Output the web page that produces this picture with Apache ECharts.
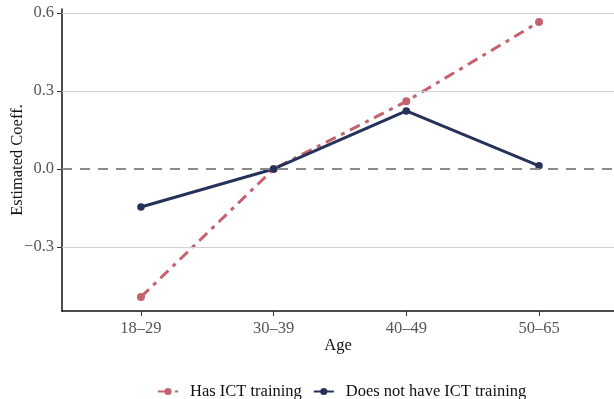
<!DOCTYPE html>
<html><head><meta charset="utf-8">
<script src="https://cdn.jsdelivr.net/npm/echarts@6/dist/echarts.min.js"></script>
<style>html,body{margin:0;padding:0;background:#fff}#c{width:614px;height:399px}</style>
</head><body><div id="c"></div>
<script>
var categories = ['18–29', '30–39', '40–49', '50–65'];
var hasICT = [-0.492, 0.0, 0.26, 0.565];
var noICT = [-0.146, 0.0, 0.223, 0.012];
var yTicks = [-0.3, 0, 0.3, 0.6];
var yTickLabels = ['−0.3', '0.0', '0.3', '0.6'];

var xPos = categories.map(function (c, i) { return i + 1; });
function pairs(vals) { return vals.map(function (v, i) { return [xPos[i], v]; }); }
var font = 'Liberation Serif';
var chart = echarts.init(document.getElementById('c'));
chart.setOption({
  animation: false,
  textStyle: { fontFamily: font },
  grid: { left: 62, right: 0, top: 9, bottom: 88, containLabel: false, outerBoundsMode: 'none' },
  xAxis: {
    type: 'value', min: 0.405, max: 4.565,
    name: 'Age', nameLocation: 'middle', nameGap: 26, nameMoveOverlap: false,
    nameTextStyle: { fontFamily: font, fontSize: 16.5, color: '#111' },
    axisLine: { show: true, onZero: false, lineStyle: { color: '#111', width: 1.5 } },
    axisTick: { show: true, length: 5, customValues: xPos, lineStyle: { color: '#333' } },
    axisLabel: { customValues: xPos, margin: 9, fontSize: 16.5, color: '#555', fontFamily: font,
      formatter: function (v) { return categories[Math.round(v) - 1] || ''; } },
    splitLine: { show: false }
  },
  yAxis: {
    type: 'value', min: -0.546, max: 0.615,
    name: 'Estimated Coeff.', nameLocation: 'middle', nameGap: 36, nameMoveOverlap: false,
    nameTextStyle: { fontFamily: font, fontSize: 16.5, color: '#111' },
    axisLine: { show: true, onZero: false, lineStyle: { color: '#111', width: 1.5 } },
    axisTick: { show: true, length: 5, customValues: yTicks, lineStyle: { color: '#333' } },
    axisLabel: { customValues: yTicks, margin: 8, fontSize: 16.5, color: '#555', fontFamily: font,
      formatter: function (v) { var i = yTicks.indexOf(Math.round(v * 10) / 10); return i >= 0 ? yTickLabels[i] : ''; } },
    splitLine: { show: false }
  },
  legend: {
    bottom: -6, left: 152, itemWidth: 20, itemHeight: 9, itemGap: 11,
    textStyle: { fontFamily: font, fontSize: 16.5, color: '#111', padding: [0, 0, 0, 7] },
    data: ['Has ICT training', 'Does not have ICT training']
  },
  series: [
    {
      name: 'grid', type: 'line', data: [], silent: true,
      markLine: {
        silent: true, symbol: 'none', label: { show: false },
        data: [
          { yAxis: 0.6, lineStyle: { color: '#d0d0d0', width: 1.2, type: 'solid' } },
          { yAxis: 0.3, lineStyle: { color: '#d0d0d0', width: 1.2, type: 'solid' } },
          { yAxis: -0.3, lineStyle: { color: '#d0d0d0', width: 1.2, type: 'solid' } },
          { yAxis: 0, lineStyle: { color: '#8a8a8a', width: 2, type: [10, 8] } }
        ]
      }
    },
    {
      name: 'Has ICT training', type: 'line', data: pairs(hasICT),
      symbol: 'circle', symbolSize: 8, color: '#c4636f',
      lineStyle: { width: 3, type: [11, 6, 4, 6], color: '#c4636f' },
      itemStyle: { color: '#c4636f' }
    },
    {
      name: 'Does not have ICT training', type: 'line', data: pairs(noICT),
      symbol: 'circle', symbolSize: 7.5, color: '#27325a',
      lineStyle: { width: 3, type: 'solid', color: '#27325a' },
      itemStyle: { color: '#27325a' }
    }
  ]
});
</script></body></html>
